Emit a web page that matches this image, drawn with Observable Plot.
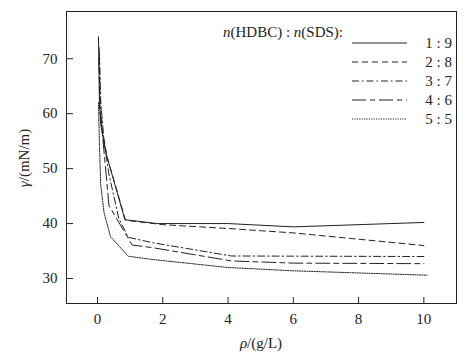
<!DOCTYPE html>
<html>
<head>
<meta charset="utf-8">
<script src="https://cdn.jsdelivr.net/npm/d3@7"></script>
<script src="https://cdn.jsdelivr.net/npm/@observablehq/plot@0.6"></script>
<style>
  html, body { margin: 0; padding: 0; background: #fff; }
  svg, svg text { font-family: "Liberation Serif", "Times New Roman", serif !important; }
</style>
</head>
<body>
<div id="chart"></div>
<script>
// ---- data ----
const seriesNames = ["1 : 9", "2 : 8", "3 : 7", "4 : 6", "5 : 5"];
const rho19 = [0.03, 0.06, 0.10, 0.25, 0.84, 1.83, 4, 6, 10];
const gam19 = [74.0, 62.0, 58.0, 53.0, 40.7, 40.0, 40.0, 39.4, 40.2];
const rho28 = [0.05, 0.08, 0.15, 0.30, 0.86, 2, 4, 6, 10];
const gam28 = [72.0, 63.0, 57.0, 52.0, 40.6, 39.8, 39.1, 38.3, 36.0];
const rho37 = [0.06, 0.10, 0.20, 0.35, 0.65, 0.94, 1.7, 4.1, 10];
const gam37 = [71.0, 62.0, 55.0, 49.0, 41.0, 37.5, 36.5, 34.1, 34.0];
const rho46 = [0.04, 0.08, 0.14, 0.35, 1.06, 1.7, 4.1, 6, 10];
const gam46 = [70.0, 60.0, 57.0, 43.3, 36.1, 35.6, 33.2, 32.8, 32.7];
const rho55 = [0.03, 0.06, 0.10, 0.20, 0.40, 0.94, 1.7, 4, 6, 10.1];
const gam55 = [62.0, 54.0, 47.0, 42.0, 37.6, 34.05, 33.45, 32.0, 31.4, 30.6];
const xTicks = [0, 2, 4, 6, 8, 10];
const yTicks = [30, 40, 50, 60, 70];
const dashes = ["none", "6,4", "7,3,1.5,3", "14,4,5,4", "1.2,1.2"];

const rhoAll = [rho19, rho28, rho37, rho46, rho55];
const gamAll = [gam19, gam28, gam37, gam46, gam55];
const rows = [];
seriesNames.forEach((s, i) => rhoAll[i].forEach((r, j) => rows.push({s, rho: r, gamma: gamAll[i][j]})));

const font = "Liberation Serif, Times New Roman, serif";
const ink = "#222";

const chart = Plot.plot({
  width: 467,
  height: 358,
  marginLeft: 66,
  marginRight: 11,
  marginTop: 11,
  marginBottom: 55,
  style: {fontFamily: font, fontSize: "15px", background: "#fff", color: ink},
  x: {domain: [-0.95, 11], label: null},
  y: {domain: [25.45, 78.6], label: null},
  marks: [
    Plot.frame({stroke: ink, strokeWidth: 1}),
    Plot.axisX(xTicks, {tickSize: -6, tickFormat: () => "", stroke: ink}),
    Plot.axisX(xTicks, {tickSize: 0, tickPadding: 10, fontSize: 15, fill: ink}),
    Plot.axisY(yTicks, {tickSize: -7, tickFormat: () => "", stroke: ink}),
    Plot.axisY(yTicks, {tickSize: 0, tickPadding: 9, fontSize: 15, fill: ink}),
    ...seriesNames.map((s, i) =>
      Plot.line(rows.filter(d => d.s === s), {
        x: "rho", y: "gamma", stroke: ink, strokeWidth: 1,
        strokeDasharray: dashes[i] === "none" ? null : dashes[i]
      })
    )
  ]
});

const svg = d3.select(chart);

// axis titles with italic symbols
const xl = svg.append("text")
  .attr("x", 261).attr("y", 348)
  .attr("text-anchor", "middle")
  .attr("font-size", 15).attr("fill", ink);
xl.append("tspan").attr("font-style", "italic").text("ρ");
xl.append("tspan").text("/(g/L)");

const yl = svg.append("text")
  .attr("transform", "translate(29,158) rotate(-90)")
  .attr("text-anchor", "middle")
  .attr("font-size", 15).attr("fill", ink);
yl.append("tspan").attr("font-style", "italic").text("γ");
yl.append("tspan").text("/(mN/m)");

// legend
const lg = svg.append("g").attr("font-size", 15).attr("fill", ink);
const lt = lg.append("text").attr("x", 223).attr("y", 37).attr("text-anchor", "start");
lt.append("tspan").attr("font-style", "italic").text("n");
lt.append("tspan").text("(HDBC) : ");
lt.append("tspan").attr("font-style", "italic").text("n");
lt.append("tspan").text("(SDS):");
seriesNames.forEach((s, i) => {
  const cy = 43 + i * 19;
  const ln = lg.append("line")
    .attr("x1", 352).attr("x2", 407).attr("y1", cy).attr("y2", cy)
    .attr("stroke", ink).attr("stroke-width", 1);
  if (dashes[i] !== "none") ln.attr("stroke-dasharray", dashes[i]);
  lg.append("text").attr("x", 452).attr("y", cy + 5)
    .attr("text-anchor", "end").text(s);
});

document.getElementById("chart").append(chart);
</script>
</body>
</html>
